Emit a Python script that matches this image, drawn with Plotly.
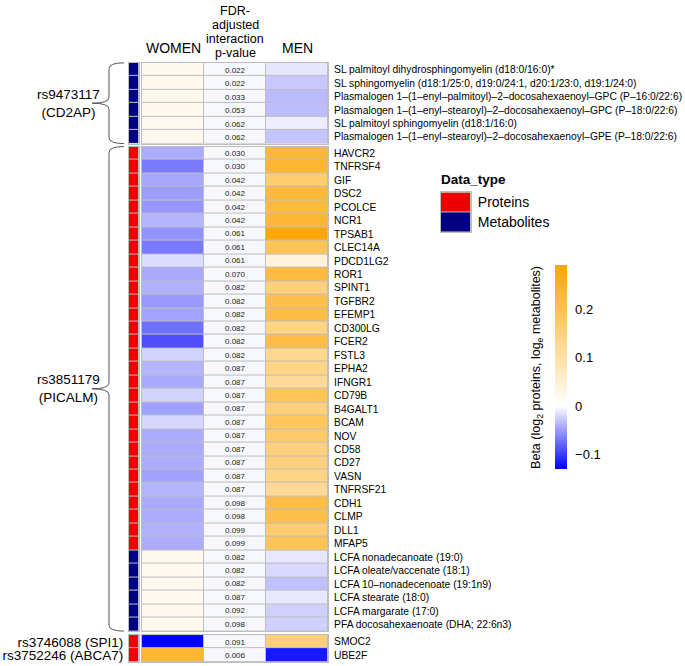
import plotly.graph_objects as go

# ---- data ----
# rs9473117 (CD2AP)
cd2ap_labels = [
    "SL palmitoyl dihydrosphingomyelin (d18:0/16:0)*",
    "SL sphingomyelin (d18:1/25:0, d19:0/24:1, d20:1/23:0, d19:1/24:0)",
    "Plasmalogen 1–(1–enyl–palmitoyl)–2–docosahexaenoyl–GPC (P–16:0/22:6)",
    "Plasmalogen 1–(1–enyl–stearoyl)–2–docosahexaenoyl–GPC (P–18:0/22:6)",
    "SL palmitoyl sphingomyelin (d18:1/16:0)",
    "Plasmalogen 1–(1–enyl–stearoyl)–2–docosahexaenoyl–GPE (P–18:0/22:6)",
]
cd2ap_women = [0.020, 0.020, 0.020, 0.020, 0.015, 0.020]
cd2ap_men = [-0.013, -0.028, -0.035, -0.034, -0.009, -0.030]
cd2ap_p = [0.022, 0.022, 0.033, 0.053, 0.062, 0.062]
cd2ap_type = ["Metabolites"] * 6

# rs3851179 (PICALM)
picalm_labels = [
    "HAVCR2", "TNFRSF4", "GIF", "DSC2", "PCOLCE", "NCR1", "TPSAB1", "CLEC14A",
    "PDCD1LG2", "ROR1", "SPINT1", "TGFBR2", "EFEMP1", "CD300LG", "FCER2", "FSTL3",
    "EPHA2", "IFNGR1", "CD79B", "B4GALT1", "BCAM", "NOV", "CD58", "CD27", "VASN",
    "TNFRSF21", "CDH1", "CLMP", "DLL1", "MFAP5",
    "LCFA nonadecanoate (19:0)",
    "LCFA oleate/vaccenate (18:1)",
    "LCFA 10–nonadecenoate (19:1n9)",
    "LCFA stearate (18:0)",
    "LCFA margarate (17:0)",
    "PFA docosahexaenoate (DHA; 22:6n3)",
]
picalm_women = [
    -0.043, -0.068, -0.045, -0.050, -0.053, -0.038, -0.055, -0.068,
    -0.018, -0.044, -0.040, -0.052, -0.047, -0.073, -0.090, -0.023,
    -0.038, -0.044, -0.023, -0.048, -0.021, -0.043, -0.043, -0.043, -0.048,
    -0.038, -0.044, -0.043, -0.040, -0.043,
    0.020, 0.014, 0.020, 0.014, 0.022, 0.022,
]
picalm_men = [
    0.230, 0.232, 0.165, 0.225, 0.222, 0.230, 0.285, 0.190,
    0.040, 0.220, 0.150, 0.205, 0.212, 0.140, 0.212, 0.130,
    0.140, 0.118, 0.190, 0.150, 0.185, 0.170, 0.150, 0.150, 0.140,
    0.118, 0.212, 0.205, 0.165, 0.192,
    -0.012, -0.020, -0.032, -0.012, -0.024, -0.024,
]
picalm_p = [
    0.030, 0.030, 0.042, 0.042, 0.042, 0.042, 0.061, 0.061,
    0.061, 0.070, 0.082, 0.082, 0.082, 0.082, 0.082, 0.082,
    0.087, 0.087, 0.087, 0.087, 0.087, 0.087, 0.087, 0.087, 0.087,
    0.087, 0.098, 0.098, 0.099, 0.099,
    0.082, 0.082, 0.082, 0.087, 0.092, 0.098,
]
picalm_type = ["Proteins"] * 30 + ["Metabolites"] * 6

# rs3746088 (SPI1) and rs3752246 (ABCA7)
other_snps = ["rs3746088 (SPI1)", "rs3752246 (ABCA7)"]
other_labels = ["SMOC2", "UBE2F"]
other_women = [-0.130, 0.232]
other_men = [0.152, -0.118]
other_p = [0.091, 0.006]
other_type = ["Proteins", "Proteins"]

type_names = ["Metabolites", "Proteins"]
type_colors = ["#000080", "#EE0000"]
beta_ticks = [-0.1, 0, 0.1, 0.2]
beta_min, beta_max = -0.13, 0.29

# ---- layout helpers (pixel positions of the page) ----
W, H = 685, 666


def fx(px):
    return px / W


def fy(py):
    return 1 - py / H


def ax(i, kind):
    return f"{kind}axis" if i == 1 else f"{kind}axis{i}"


def ref(i, kind):
    return kind if i == 1 else f"{kind}{i}"


groups = [
    dict(labels=cd2ap_labels, women=cd2ap_women, men=cd2ap_men, p=cd2ap_p,
         dtype=cd2ap_type, top=62, bottom=143, snp="rs9473117<br>(CD2AP)"),
    dict(labels=picalm_labels, women=picalm_women, men=picalm_men, p=picalm_p,
         dtype=picalm_type, top=146, bottom=632, snp="rs3851179<br>(PICALM)"),
    dict(labels=other_labels, women=other_women, men=other_men, p=other_p,
         dtype=other_type, top=636, bottom=663, snp=None),
]

zero_pos = (0 - beta_min) / (beta_max - beta_min)
beta_scale = [[0, "#0000FF"], [zero_pos, "#FFFFFF"], [1, "#FFA500"]]
type_scale = [[0, type_colors[0]], [0.5, type_colors[0]],
              [0.5, type_colors[1]], [1, type_colors[1]]]
p_fill = "#F7F7FE"
grid = "#BDBDBD"

fig = go.Figure()
layout = {}
shapes = []
annotations = []

for g, grp in enumerate(groups):
    n = len(grp["labels"])
    rows = list(range(n))
    ta, ma = 2 * g + 1, 2 * g + 2
    common = dict(y=rows, xgap=1, ygap=1, hoverinfo="skip")

    fig.add_trace(go.Heatmap(
        z=[[type_names.index(t)] for t in grp["dtype"]], x=[0, 1],
        colorscale=type_scale, zmin=0, zmax=1, showscale=False,
        xaxis=ref(ta, "x"), yaxis=ref(ta, "y"), **common))
    fig.add_trace(go.Heatmap(
        z=[[v] for v in grp["women"]], x=[0, 1], coloraxis="coloraxis",
        xaxis=ref(ma, "x"), yaxis=ref(ma, "y"), **common))
    fig.add_trace(go.Heatmap(
        z=[[0] for _ in grp["p"]], x=[1, 2], colorscale=[[0, p_fill], [1, p_fill]],
        showscale=False, text=[[f"{v:.3f}"] for v in grp["p"]],
        texttemplate="%{text}", textfont=dict(size=8, color="#222"),
        xaxis=ref(ma, "x"), yaxis=ref(ma, "y"), **common))
    fig.add_trace(go.Heatmap(
        z=[[v] for v in grp["men"]], x=[2, 3], coloraxis="coloraxis",
        xaxis=ref(ma, "x"), yaxis=ref(ma, "y"), **common))

    ydom = [fy(grp["bottom"]), fy(grp["top"])]
    frame = dict(showline=True, mirror=True, linecolor=grid, linewidth=1,
                 showgrid=False, zeroline=False, ticks="", fixedrange=True)
    layout[ax(ta, "x")] = dict(domain=[fx(129), fx(139)], range=[0, 1],
                               anchor=ref(ta, "y"), showticklabels=False, **frame)
    layout[ax(ma, "x")] = dict(domain=[fx(142), fx(328)], range=[0, 3],
                               anchor=ref(ma, "y"), showticklabels=False, **frame)
    left_ticks = grp["snp"] is None
    layout[ax(ta, "y")] = dict(
        domain=ydom, range=[n - 0.5, -0.5], anchor=ref(ta, "x"),
        tickmode="array", tickvals=rows,
        ticktext=other_snps if left_ticks else [""] * n,
        showticklabels=left_ticks, tickfont=dict(size=13.5, color="black"),
        ticklabelstandoff=2, **frame)
    layout[ax(ma, "y")] = dict(
        domain=ydom, range=[n - 0.5, -0.5], anchor=ref(ma, "x"), side="right",
        tickmode="array", tickvals=rows, ticktext=grp["labels"],
        tickfont=dict(size=10.3, color="black"), ticklabelstandoff=3, **frame)

    if grp["snp"]:
        # curly brace on the left of the group
        t, b = grp["top"], grp["bottom"]
        m = (t + b) / 2
        xe, xl, xt, c = fx(124), fx(109), fx(92), 6
        path = (f"M {xe},{fy(t)} Q {xl},{fy(t)} {xl},{fy(t + c)} "
                f"L {xl},{fy(m - c)} Q {xl},{fy(m)} {xt},{fy(m)} "
                f"Q {xl},{fy(m)} {xl},{fy(m + c)} "
                f"L {xl},{fy(b - c)} Q {xl},{fy(b)} {xe},{fy(b)}")
        shapes.append(dict(type="path", path=path, xref="paper", yref="paper",
                           line=dict(color="#555", width=1)))
        annotations.append(dict(text=grp["snp"], x=fx(68), y=fy(m), xref="paper",
                                yref="paper", xanchor="center", yanchor="middle",
                                showarrow=False, font=dict(size=13.5, color="black")))

# column headers, placed on the first group's main x axis
header_lines = [(0.5, "WOMEN", 47, 14), (2.5, "MEN", 47, 14),
                (1.5, "FDR-", 10, 12.5), (1.5, "adjusted", 24, 12.5),
                (1.5, "interaction", 38, 12.5), (1.5, "p-value", 52, 12.5)]
for xc, txt, ypx, size in header_lines:
    annotations.append(dict(text=txt, x=xc, xref="x2", y=fy(ypx), yref="paper",
                            xanchor="center", yanchor="middle", showarrow=False,
                            font=dict(size=size, color="black")))

# Data_type legend as a small key
fig.add_trace(go.Heatmap(
    z=[[type_names.index(t)] for t in ["Proteins", "Metabolites"]], x=[0, 1],
    y=[0, 1], colorscale=type_scale, zmin=0, zmax=1, showscale=False,
    xgap=1, ygap=1, hoverinfo="skip", xaxis="x7", yaxis="y7"))
layout["xaxis7"] = dict(domain=[fx(441), fx(471)], range=[0, 1], anchor="y7",
                        showticklabels=False, showgrid=False, zeroline=False,
                        showline=True, mirror=True, linecolor=grid)
layout["yaxis7"] = dict(domain=[fy(232), fy(192)], range=[1.5, -0.5], anchor="x7",
                        side="right", tickmode="array", tickvals=[0, 1],
                        ticktext=["Proteins", "Metabolites"], ticks="",
                        tickfont=dict(size=14, color="black"), ticklabelstandoff=3,
                        showgrid=False, zeroline=False, showline=True,
                        mirror=True, linecolor=grid)
annotations.append(dict(text="<b>Data_type</b>", x=fx(439), y=fy(179), xref="paper",
                        yref="paper", xanchor="left", yanchor="middle",
                        showarrow=False, font=dict(size=13.5, color="black")))

# colour bar title
annotations.append(dict(
    text="Beta (log<sub>2</sub> proteins, log<sub>e</sub> metabolites)",
    x=fx(537), y=fy(368), xref="paper", yref="paper", textangle=-90,
    xanchor="center", yanchor="middle",
    showarrow=False, font=dict(size=12.5, color="black")))

fig.update_layout(
    width=W, height=H, margin=dict(l=0, r=0, t=0, b=0),
    paper_bgcolor="white", plot_bgcolor=grid, showlegend=False,
    font=dict(family="Liberation Sans, Arial, sans-serif", color="black"),
    coloraxis=dict(
        colorscale=beta_scale, cmin=beta_min, cmax=beta_max,
        colorbar=dict(x=fx(555), xanchor="left", y=fy(367.5), yanchor="middle",
                      len=205 / H, lenmode="fraction", thickness=12, xpad=0, ypad=0,
                      outlinewidth=0, tickmode="array", tickvals=beta_ticks,
                      ticktext=["−0.1", "0", "0.1", "0.2"], ticks="outside",
                      ticklen=6, tickcolor="rgba(0,0,0,0)",
                      tickfont=dict(size=13, color="black"))),
    shapes=shapes, annotations=annotations,
    **layout,
)

# drop the browser's default body margin so the figure sits at the page origin
fig.write_html("out.html", config={"displayModeBar": False},
               post_script="document.body.style.margin = '0';")
